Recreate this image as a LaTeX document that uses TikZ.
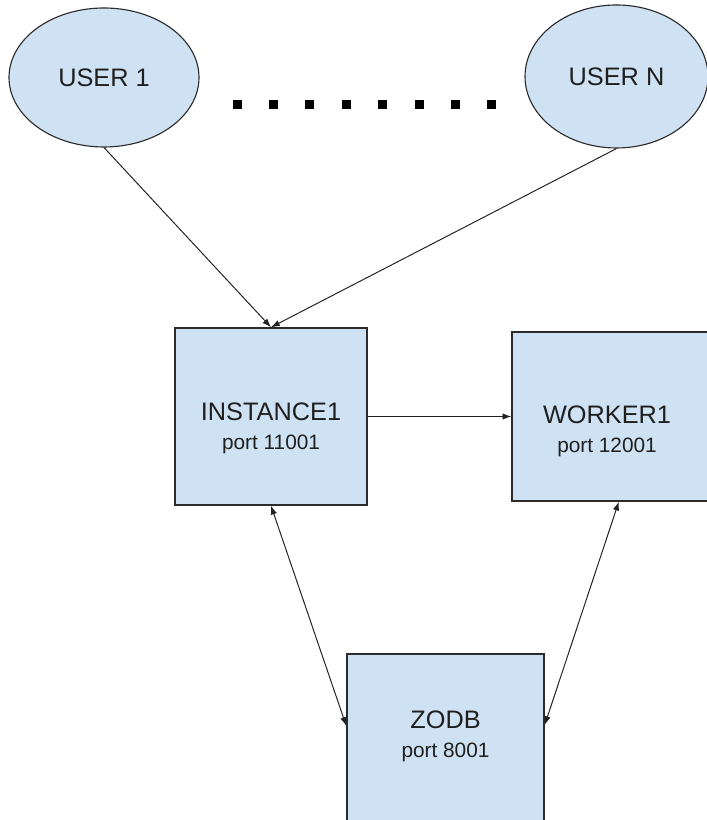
\documentclass[tikz,border=0pt]{standalone}
\usepackage{fontspec}
\setmainfont{Liberation Sans}
\usepackage{xcolor}
\usepackage{tikz}
\usetikzlibrary{arrows.meta,shapes.geometric}
\definecolor{hostFill}{HTML}{CFE2F3}
\definecolor{hostLine}{HTML}{2B2B2B}
\definecolor{flowGrey}{HTML}{222222}
\definecolor{textGrey}{HTML}{1F1F1F}
\tikzset{
  userbubble/.style={ellipse, draw=hostLine, fill=hostFill, line width=0.8pt, inner sep=0pt, text=textGrey, font=\fontsize{18}{21}\selectfont},
  hostbox/.style={rectangle, draw=hostLine, fill=hostFill, line width=1pt, inner sep=0pt},
  hostlabel/.style={align=center, inner sep=0pt, text=textGrey, font=\fontsize{18}{20.6}\selectfont},
  portfont/.style={font=\fontsize{14.8}{20.6}\selectfont},
  flowarrow/.style={-{Latex[length=2.2mm,width=1.6mm]}, line width=0.7pt, draw=flowGrey},
  linkarrow/.style={{Latex[length=2.2mm,width=1.6mm]}-{Latex[length=2.2mm,width=1.6mm]}, line width=0.7pt, draw=flowGrey},
}
\begin{document}
\begin{tikzpicture}[x=1cm,y=1cm]

  \useasboundingbox (0,0) rectangle (17.675,20.5);
  \clip (0,0) rectangle (17.675,20.5);

  % ---------- users ----------
  \node[userbubble, minimum width=4.75cm, minimum height=3.475cm]  (u1) at (2.6,18.5625)    {USER 1};
  \node[userbubble, minimum width=4.575cm, minimum height=3.575cm] (un) at (15.4125,18.5875) {USER N};

  \foreach \i in {0,...,7}
    \fill[black] ({5.8125+0.91*\i},17.7625) rectangle ++(0.225,0.225);

  % ---------- hosts ----------
  \node[hostbox, minimum width=4.8cm, minimum height=4.425cm]   (inst) at (6.775,10.0875)  {};
  \node[hostbox, minimum width=5.0cm, minimum height=4.225cm]   (wk)   at (15.3,10.0875)   {};
  \node[hostbox, minimum width=4.925cm, minimum height=4.425cm] (zodb) at (11.1375,1.9375) {};

  \node[hostlabel] (instlbl) at ([yshift=-2.525cm]inst.north) {INSTANCE1\\{\fontsize{14.8}{20.6}\selectfont port 11001}};
  \node[hostlabel] (wklbl)   at ([xshift=-0.125cm,yshift=-2.5125cm]wk.north) {WORKER1\\{\fontsize{14.8}{20.6}\selectfont port 12001}};
  \node[hostlabel] (zodblbl) at ([yshift=-2.0875cm]zodb.north) {ZODB\\{\fontsize{14.8}{20.6}\selectfont port 8001}};

  % ---------- requests ----------
  \draw[flowarrow] (u1.south) -- (inst.north);
  \draw[flowarrow] (un.south) -- (inst.north);
  \draw[flowarrow] (inst.east) -- (wk.west);

  % ---------- storage ----------
  \draw[linkarrow] (inst.south) -- ([yshift=0.4125cm]zodb.west);
  \draw[linkarrow] ([xshift=0.17cm]wk.south) -- ([yshift=0.4375cm]zodb.east);

\end{tikzpicture}
\end{document}
